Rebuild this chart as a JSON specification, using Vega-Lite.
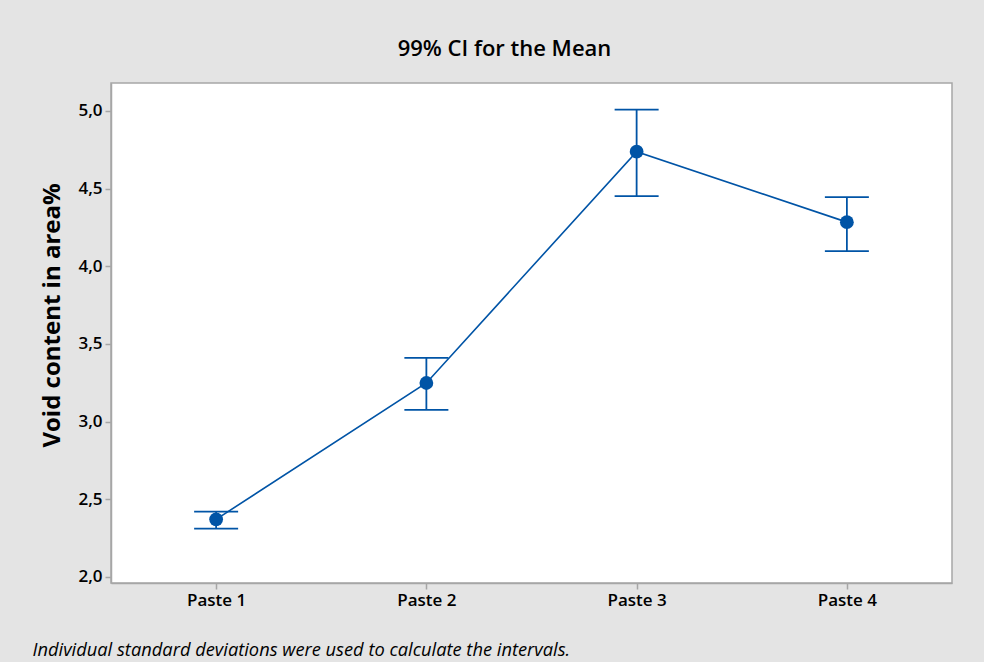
{
  "$schema": "https://vega.github.io/schema/vega-lite/v6.json",
  "width": 841,
  "height": 500,
  "autosize": {"type": "none"},
  "padding": {"left": 111, "top": 83, "right": 32, "bottom": 79},
  "background": "#e4e4e4",
  "title": {
    "text": "99% CI for the Mean",
    "font": "Open Sans",
    "fontSize": 22,
    "fontWeight": 600,
    "color": "#000000",
    "anchor": "middle",
    "dx": -27,
    "offset": 22
  },
  "config": {
    "view": {"fill": "#ffffff", "stroke": "#a6a6a6", "strokeWidth": 1.5},
    "axis": {
      "labelFont": "Open Sans",
      "labelFontSize": 17,
      "labelFontWeight": 600,
      "labelColor": "#000000",
      "titleFont": "Open Sans",
      "titleColor": "#000000",
      "domainColor": "#a6a6a6",
      "domainWidth": 1.5,
      "tickColor": "#a6a6a6",
      "tickWidth": 1.5,
      "grid": false
    }
  },
  "data": {
    "values": [
      {"paste": "Paste 1", "mean": 2.37, "lower": 2.31, "upper": 2.42},
      {"paste": "Paste 2", "mean": 3.248, "lower": 3.075, "upper": 3.41},
      {"paste": "Paste 3", "mean": 4.738, "lower": 4.452, "upper": 5.009},
      {"paste": "Paste 4", "mean": 4.284, "lower": 4.097, "upper": 4.445}
    ]
  },
  "encoding": {
    "x": {
      "field": "paste",
      "type": "nominal",
      "scale": {"type": "point", "padding": 0.5},
      "sort": null,
      "axis": {
        "title": "Individual standard deviations were used to calculate the intervals.",
        "titleFontSize": 18.3,
        "titleFontStyle": "italic",
        "titleFontWeight": "normal",
        "titleAnchor": "start",
        "titleAlign": "left",
        "titleX": -79,
        "titleY": 58,
        "labelAngle": 0,
        "tickSize": 6,
        "labelPadding": 3
      }
    }
  },
  "layer": [
    {
      "mark": {"type": "line", "color": "#0054a6", "strokeWidth": 1.6},
      "encoding": {
        "y": {
          "field": "mean",
          "type": "quantitative",
          "scale": {"domain": [1.96, 5.18], "nice": false, "zero": false},
          "axis": {
            "title": "Void content in area%",
            "titleFontSize": 24,
            "titleFontWeight": "bold",
            "titleAngle": -90,
            "titleX": -59,
            "titleY": 232,
            "titleAlign": "center",
            "titleBaseline": "middle",
            "values": [2, 2.5, 3, 3.5, 4, 4.5, 5],
            "labelExpr": "replace(format(datum.value, '.1f'), '.', ',')",
            "tickSize": 6,
            "labelPadding": 3
          }
        }
      }
    },
    {
      "mark": {"type": "rule", "color": "#0054a6", "strokeWidth": 1.8},
      "encoding": {
        "y": {"field": "lower", "type": "quantitative"},
        "y2": {"field": "upper"}
      }
    },
    {
      "mark": {"type": "tick", "color": "#0054a6", "size": 44, "thickness": 1.8, "opacity": 1},
      "encoding": {"y": {"field": "lower", "type": "quantitative"}}
    },
    {
      "mark": {"type": "tick", "color": "#0054a6", "size": 44, "thickness": 1.8, "opacity": 1},
      "encoding": {"y": {"field": "upper", "type": "quantitative"}}
    },
    {
      "mark": {"type": "point", "filled": true, "shape": "circle", "size": 190, "color": "#0054a6", "opacity": 1},
      "encoding": {"y": {"field": "mean", "type": "quantitative"}}
    }
  ]
}
